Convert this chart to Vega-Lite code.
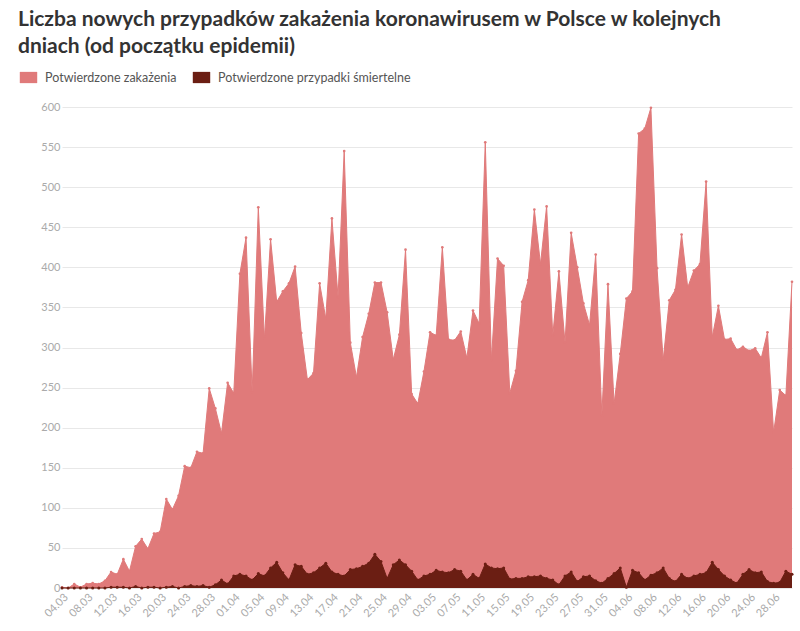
{
  "$schema": "https://vega.github.io/schema/vega-lite/v6.json",
  "width": 730,
  "height": 481,
  "autosize": {"type": "none"},
  "padding": {"left": 62, "top": 107, "right": 8, "bottom": 43},
  "background": "white",
  "config": {
    "view": {"stroke": null},
    "font": "Lato"
  },
  "title": {
    "text": ["Liczba nowych przypadków zakażenia koronawirusem w Polsce w kolejnych", "dniach (od początku epidemii)"],
    "anchor": "start",
    "frame": "group",
    "dx": -44,
    "offset": 10,
    "fontSize": 21,
    "fontWeight": "bold",
    "font": "Lato",
    "color": "#333333",
    "lineHeight": 27
  },
  "data": {"values": [
    {"d":"2020-03-04","c":1,"z":0},{"d":"2020-03-05","c":0,"z":0},{"d":"2020-03-06","c":5,"z":0},{"d":"2020-03-07","c":1,"z":0},
    {"d":"2020-03-08","c":5,"z":0},{"d":"2020-03-09","c":6,"z":0},{"d":"2020-03-10","c":5,"z":0},{"d":"2020-03-11","c":9,"z":0},
    {"d":"2020-03-12","c":20,"z":1},{"d":"2020-03-13","c":17,"z":1},{"d":"2020-03-14","c":36,"z":1},{"d":"2020-03-15","c":21,"z":0},
    {"d":"2020-03-16","c":52,"z":2},{"d":"2020-03-17","c":61,"z":0},{"d":"2020-03-18","c":49,"z":1},{"d":"2020-03-19","c":68,"z":1},
    {"d":"2020-03-20","c":70,"z":0},{"d":"2020-03-21","c":111,"z":1},{"d":"2020-03-22","c":98,"z":2},{"d":"2020-03-23","c":115,"z":0},
    {"d":"2020-03-24","c":152,"z":2},{"d":"2020-03-25","c":150,"z":3},{"d":"2020-03-26","c":170,"z":2},{"d":"2020-03-27","c":168,"z":3},
    {"d":"2020-03-28","c":249,"z":1},{"d":"2020-03-29","c":224,"z":4},{"d":"2020-03-30","c":193,"z":10},{"d":"2020-03-31","c":256,"z":5},
    {"d":"2020-04-01","c":243,"z":15},{"d":"2020-04-02","c":392,"z":17},{"d":"2020-04-03","c":437,"z":15},{"d":"2020-04-04","c":244,"z":10},
    {"d":"2020-04-05","c":475,"z":18},{"d":"2020-04-06","c":311,"z":15},{"d":"2020-04-07","c":435,"z":25},{"d":"2020-04-08","c":357,"z":32},
    {"d":"2020-04-09","c":370,"z":19},{"d":"2020-04-10","c":380,"z":10},{"d":"2020-04-11","c":401,"z":29},{"d":"2020-04-12","c":318,"z":27},
    {"d":"2020-04-13","c":260,"z":17},{"d":"2020-04-14","c":268,"z":19},{"d":"2020-04-15","c":380,"z":25},{"d":"2020-04-16","c":336,"z":31},
    {"d":"2020-04-17","c":461,"z":20},{"d":"2020-04-18","c":363,"z":17},{"d":"2020-04-19","c":545,"z":15},{"d":"2020-04-20","c":306,"z":23},
    {"d":"2020-04-21","c":263,"z":24},{"d":"2020-04-22","c":313,"z":27},{"d":"2020-04-23","c":342,"z":31},{"d":"2020-04-24","c":381,"z":42},
    {"d":"2020-04-25","c":381,"z":33},{"d":"2020-04-26","c":344,"z":12},{"d":"2020-04-27","c":285,"z":29},{"d":"2020-04-28","c":316,"z":35},
    {"d":"2020-04-29","c":422,"z":29},{"d":"2020-04-30","c":242,"z":21},{"d":"2020-05-01","c":230,"z":10},{"d":"2020-05-02","c":270,"z":15},
    {"d":"2020-05-03","c":319,"z":17},{"d":"2020-05-04","c":315,"z":22},{"d":"2020-05-05","c":425,"z":20},{"d":"2020-05-06","c":310,"z":19},
    {"d":"2020-05-07","c":309,"z":23},{"d":"2020-05-08","c":320,"z":21},{"d":"2020-05-09","c":287,"z":10},{"d":"2020-05-10","c":346,"z":17},
    {"d":"2020-05-11","c":330,"z":12},{"d":"2020-05-12","c":556,"z":30},{"d":"2020-05-13","c":284,"z":25},{"d":"2020-05-14","c":411,"z":24},
    {"d":"2020-05-15","c":402,"z":25},{"d":"2020-05-16","c":243,"z":11},{"d":"2020-05-17","c":271,"z":12},{"d":"2020-05-18","c":357,"z":12},
    {"d":"2020-05-19","c":384,"z":14},{"d":"2020-05-20","c":472,"z":14},{"d":"2020-05-21","c":404,"z":15},{"d":"2020-05-22","c":476,"z":12},
    {"d":"2020-05-23","c":315,"z":10},{"d":"2020-05-24","c":395,"z":4},{"d":"2020-05-25","c":306,"z":15},{"d":"2020-05-26","c":443,"z":20},
    {"d":"2020-05-27","c":400,"z":8},{"d":"2020-05-28","c":355,"z":14},{"d":"2020-05-29","c":328,"z":15},{"d":"2020-05-30","c":416,"z":9},
    {"d":"2020-05-31","c":215,"z":6},{"d":"2020-06-01","c":379,"z":12},{"d":"2020-06-02","c":230,"z":18},{"d":"2020-06-03","c":292,"z":25},
    {"d":"2020-06-04","c":361,"z":1},{"d":"2020-06-05","c":370,"z":22},{"d":"2020-06-06","c":567,"z":19},{"d":"2020-06-07","c":573,"z":10},
    {"d":"2020-06-08","c":599,"z":16},{"d":"2020-06-09","c":399,"z":19},{"d":"2020-06-10","c":284,"z":25},{"d":"2020-06-11","c":359,"z":12},
    {"d":"2020-06-12","c":372,"z":8},{"d":"2020-06-13","c":441,"z":17},{"d":"2020-06-14","c":375,"z":12},{"d":"2020-06-15","c":396,"z":15},
    {"d":"2020-06-16","c":404,"z":17},{"d":"2020-06-17","c":507,"z":19},{"d":"2020-06-18","c":313,"z":32},{"d":"2020-06-19","c":352,"z":23},
    {"d":"2020-06-20","c":310,"z":15},{"d":"2020-06-21","c":311,"z":10},{"d":"2020-06-22","c":297,"z":6},{"d":"2020-06-23","c":301,"z":17},
    {"d":"2020-06-24","c":296,"z":23},{"d":"2020-06-25","c":299,"z":19},{"d":"2020-06-26","c":287,"z":20},{"d":"2020-06-27","c":319,"z":8},
    {"d":"2020-06-28","c":194,"z":6},{"d":"2020-06-29","c":247,"z":7},{"d":"2020-06-30","c":240,"z":21},{"d":"2020-07-01","c":382,"z":17}
  ]},
  "encoding": {
    "x": {
      "field": "d", "type": "temporal", "title": null,
      "scale": {"type": "utc", "domain": [{"year":2020,"month":3,"date":4,"utc":true},{"year":2020,"month":7,"date":1,"utc":true}]},
      "axis": {
        "labelExpr": "utcFormat(datum.value, '%d.%m')",
        "values": [
          {"year":2020,"month":3,"date":4,"utc":true},{"year":2020,"month":3,"date":8,"utc":true},{"year":2020,"month":3,"date":12,"utc":true},
          {"year":2020,"month":3,"date":16,"utc":true},{"year":2020,"month":3,"date":20,"utc":true},{"year":2020,"month":3,"date":24,"utc":true},
          {"year":2020,"month":3,"date":28,"utc":true},{"year":2020,"month":4,"date":1,"utc":true},{"year":2020,"month":4,"date":5,"utc":true},
          {"year":2020,"month":4,"date":9,"utc":true},{"year":2020,"month":4,"date":13,"utc":true},{"year":2020,"month":4,"date":17,"utc":true},
          {"year":2020,"month":4,"date":21,"utc":true},{"year":2020,"month":4,"date":25,"utc":true},{"year":2020,"month":4,"date":29,"utc":true},
          {"year":2020,"month":5,"date":3,"utc":true},{"year":2020,"month":5,"date":7,"utc":true},{"year":2020,"month":5,"date":11,"utc":true},
          {"year":2020,"month":5,"date":15,"utc":true},{"year":2020,"month":5,"date":19,"utc":true},{"year":2020,"month":5,"date":23,"utc":true},
          {"year":2020,"month":5,"date":27,"utc":true},{"year":2020,"month":5,"date":31,"utc":true},{"year":2020,"month":6,"date":4,"utc":true},
          {"year":2020,"month":6,"date":8,"utc":true},{"year":2020,"month":6,"date":12,"utc":true},{"year":2020,"month":6,"date":16,"utc":true},
          {"year":2020,"month":6,"date":20,"utc":true},{"year":2020,"month":6,"date":24,"utc":true},{"year":2020,"month":6,"date":28,"utc":true}
        ],
        "labelAngle": -45,
        "labelFontSize": 11,
        "labelColor": "#aaaaaa",
        "labelFont": "Lato",
        "labelPadding": 3,
        "labelOverlap": false,
        "ticks": false,
        "domain": false,
        "grid": false
      }
    }
  },
  "layer": [
    {
      "mark": {"type": "area", "color": "#e07a7a", "opacity": 1,
        "line": {"color": "#d96d6d", "strokeWidth": 1},
        "point": {"color": "#c65e5e", "size": 7, "filled": true}},
      "encoding": {
        "y": {"field": "c", "type": "quantitative", "title": null,
          "scale": {"domain": [0, 600], "nice": false},
          "axis": {"values": [0,50,100,150,200,250,300,350,400,450,500,550,600],
            "labelFontSize": 11, "labelColor": "#aaaaaa", "labelFont": "Lato", "labelPadding": 2,
            "ticks": false, "domain": false, "gridColor": "#e8e8e8", "gridWidth": 1}},
        "color": {"datum": "Potwierdzone zakażenia", "type": "nominal",
          "scale": {"domain": ["Potwierdzone zakażenia", "Potwierdzone przypadki śmiertelne"], "range": ["#e07a7a", "#6b1e13"]},
          "legend": {"title": null, "orient": "none", "legendX": -44, "legendY": -40, "direction": "horizontal",
            "symbolType": "M-0.85,-0.55H0.85V0.55H-0.85Z", "symbolSize": 420, "symbolStrokeWidth": 0,
            "labelFontSize": 12.5, "labelColor": "#555555", "labelFont": "Lato", "labelLimit": 400, "columnPadding": 14, "labelOffset": 6}}
      }
    },
    {
      "mark": {"type": "area", "color": "#6b1e13", "opacity": 1,
        "line": {"color": "#5e170d", "strokeWidth": 1},
        "point": {"color": "#4e1209", "size": 9, "filled": true}},
      "encoding": {
        "y": {"field": "z", "type": "quantitative"},
        "color": {"datum": "Potwierdzone przypadki śmiertelne", "type": "nominal"}
      }
    }
  ]
}
